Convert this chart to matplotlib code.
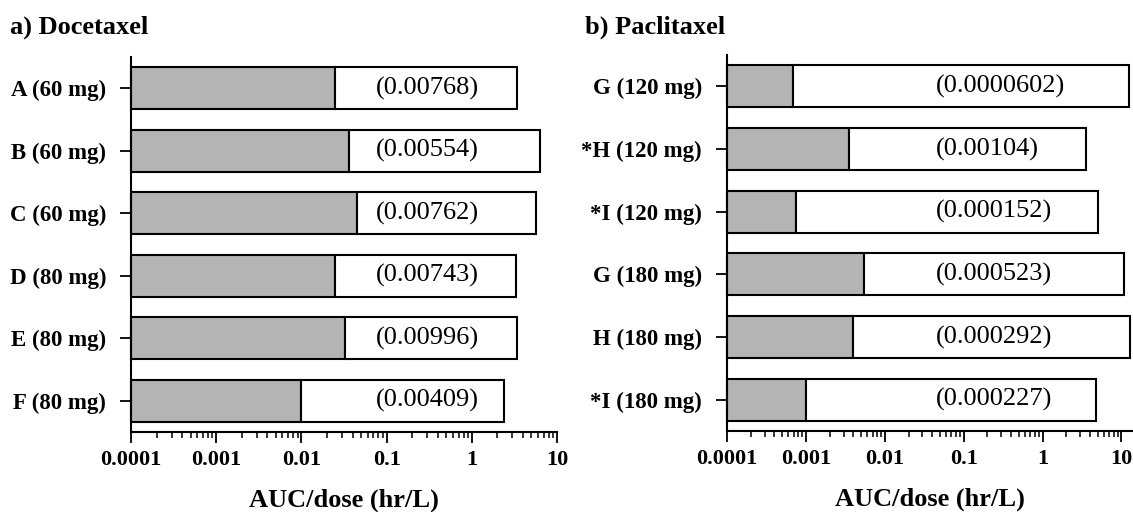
import matplotlib
matplotlib.use("Agg")
import matplotlib.pyplot as plt
from matplotlib.ticker import LogLocator, NullFormatter, FixedLocator, FixedFormatter

plt.rcParams["font.family"] = ["Liberation Serif", "DejaVu Serif"]

# panel a) docetaxel
doc_labels = ["A (60 mg)", "B (60 mg)", "C (60 mg)", "D (80 mg)", "E (80 mg)", "F (80 mg)"]
doc_gray = [0.025, 0.036, 0.045, 0.025, 0.0326, 0.010]
doc_total = [3.35, 6.35, 5.65, 3.3, 3.4, 2.4]
doc_text = ["(0.00768)", "(0.00554)", "(0.00762)", "(0.00743)", "(0.00996)", "(0.00409)"]

# panel b) paclitaxel
pac_labels = ["G (120 mg)", "*H (120 mg)", "*I (120 mg)", "G (180 mg)", "H (180 mg)", "*I (180 mg)"]
pac_gray = [0.00068, 0.0035, 0.00075, 0.0054, 0.0040, 0.00099]
pac_total = [12.3, 3.6, 5.0, 10.7, 13.0, 4.7]
pac_text = ["(0.0000602)", "(0.00104)", "(0.000152)", "(0.000523)", "(0.000292)", "(0.000227)"]

x_ticks = [0.0001, 0.001, 0.01, 0.1, 1, 10]
x_tick_labels = ["0.0001", "0.001", "0.01", "0.1", "1", "10"]

X_MIN = 0.0001
GRAY = "#b4b4b4"


def draw_panel(ax, labels, gray, total, texts, text_x, xmax, title, title_x):
    n = len(labels)
    ypos = [n - 1 - i for i in range(n)]
    widths_gray = [g - X_MIN for g in gray]
    widths_white = [t - g for t, g in zip(total, gray)]

    ax.barh(ypos, widths_gray, left=X_MIN, height=0.67, color=GRAY,
            edgecolor="black", linewidth=1.5, clip_on=False, zorder=2)
    ax.barh(ypos, widths_white, left=gray, height=0.67, color="white",
            edgecolor="black", linewidth=1.5, clip_on=False, zorder=2)

    for y, t in zip(ypos, texts):
        ax.text(text_x, y, t, ha="left", va="center", fontsize=19, zorder=3)

    ax.set_xscale("log")
    ax.set_xlim(X_MIN, xmax)
    ax.set_ylim(-0.5, n - 0.5)

    ax.xaxis.set_major_locator(FixedLocator(x_ticks))
    ax.xaxis.set_major_formatter(FixedFormatter(x_tick_labels))
    ax.xaxis.set_minor_locator(LogLocator(base=10, subs=range(2, 10), numticks=20))
    ax.xaxis.set_minor_formatter(NullFormatter())

    ax.set_yticks(ypos)
    ax.set_yticklabels(labels, fontweight="bold", fontsize=16.5)

    ax.tick_params(axis="x", which="major", length=8, width=1.3, pad=5, labelsize=16)
    ax.tick_params(axis="x", which="minor", length=4, width=1.1)
    ax.tick_params(axis="y", which="major", length=8, width=1.3, pad=10)
    for lbl in ax.get_xticklabels():
        lbl.set_fontweight("bold")

    ax.spines["top"].set_visible(False)
    ax.spines["right"].set_visible(False)
    ax.spines["left"].set_linewidth(1.5)
    ax.spines["bottom"].set_linewidth(1.5)

    ax.set_xlabel("AUC/dose (hr/L)", fontsize=19, fontweight="bold", labelpad=13)

    fig = ax.figure
    fig.text(title_x, 1 - 27 / 512, title, fontsize=19, fontweight="bold",
             ha="left", va="center")


fig = plt.figure(figsize=(11.33, 5.12), dpi=100)

ax_a = fig.add_axes([131 / 1133, 80 / 512, 426 / 1133, 375 / 512])
draw_panel(ax_a, doc_labels, doc_gray, doc_total, doc_text, 0.074, 10,
           "a) Docetaxel", 10 / 1133)

ax_b = fig.add_axes([727 / 1133, 81 / 512, 406 / 1133, 376 / 512])
draw_panel(ax_b, pac_labels, pac_gray, pac_total, pac_text, 0.044, 14,
           "b) Paclitaxel", 585 / 1133)

fig.savefig("out.png", dpi=100)
